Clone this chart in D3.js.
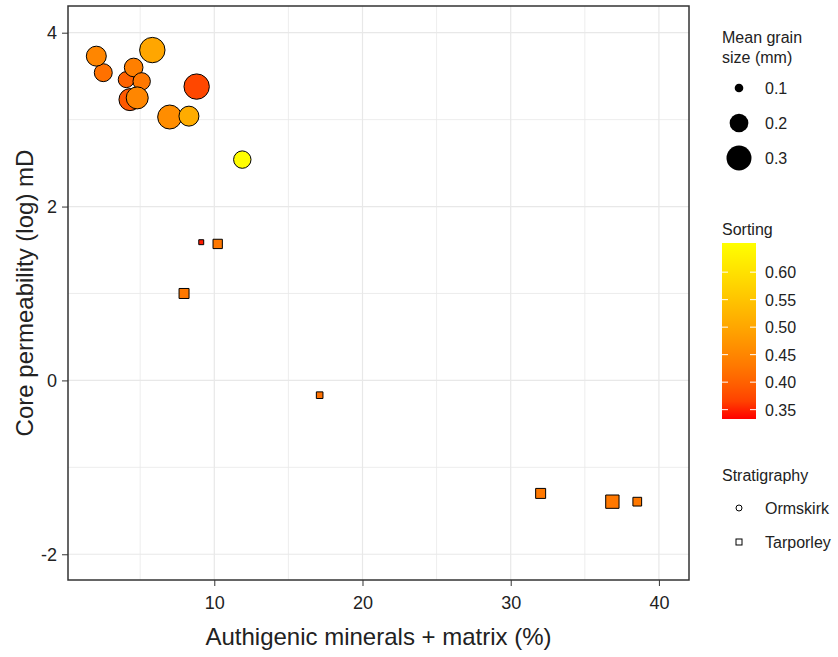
<!DOCTYPE html>
<html>
<head>
<meta charset="utf-8">
<script src="https://cdn.jsdelivr.net/npm/d3@7"></script>
<style>
  body { margin: 0; background: #fff; }
  text { font-family: "Liberation Sans", Arial, sans-serif; }
</style>
</head>
<body>
<svg id="chart" width="838" height="657"></svg>
<script>
// sample data
var formation = ["Ormskirk","Ormskirk","Ormskirk","Ormskirk","Ormskirk","Ormskirk","Ormskirk","Ormskirk","Ormskirk","Ormskirk","Ormskirk","Ormskirk",
                 "Tarporley","Tarporley","Tarporley","Tarporley","Tarporley","Tarporley","Tarporley"];
var authigenic = [4.06, 4.31, 2.51, 2.04, 4.56, 5.10, 4.80, 5.82, 8.81, 6.99, 8.29, 11.89,
                  9.12, 10.23, 7.96, 17.11, 32.02, 36.86, 38.54];
var permeability = [3.46, 3.23, 3.54, 3.73, 3.60, 3.44, 3.25, 3.80, 3.38, 3.03, 3.04, 2.54,
                    1.59, 1.57, 1.00, -0.17, -1.30, -1.395, -1.395];
var grainSize = [0.166, 0.249, 0.19, 0.218, 0.199, 0.183, 0.249, 0.307, 0.307, 0.282, 0.218, 0.183,
                 0.084, 0.113, 0.119, 0.093, 0.119, 0.155, 0.108];
var sorting = [0.40, 0.39, 0.42, 0.45, 0.44, 0.43, 0.45, 0.50, 0.37, 0.46, 0.51, 0.65,
               0.34, 0.43, 0.43, 0.42, 0.43, 0.43, 0.43];

var xTicks = [10, 20, 30, 40];
var yTicks = [-2, 0, 2, 4];
var sizeKeys = [0.1, 0.2, 0.3];
var sortKeys = [0.35, 0.40, 0.45, 0.50, 0.55, 0.60];
var strataKeys = ["Ormskirk", "Tarporley"];

var data = formation.map(function (f, i) {
  return { strat: f, x: authigenic[i], y: permeability[i], size: grainSize[i], sort: sorting[i] };
});

var svg = d3.select("#chart");
var pL = 68, pR = 689, pT = 6, pB = 580;

var x = d3.scaleLinear().domain([0.13, 42.03]).range([pL, pR]);
var y = d3.scaleLinear().domain([-2.296, 4.307]).range([pB, pT]);
// area of marker proportional to grain size
var area = d3.scaleLinear().domain([0.1, 0.3]).range([75, 625]);
function diam(g) { return Math.sqrt(Math.max(area(g), 9)); }
var colour = d3.scaleLinear().domain([0.333, 0.653]).range(["red", "yellow"]).interpolate(d3.interpolateLab).clamp(true);

// grid
var grid = svg.append("g");
d3.range(5, 45, 5).forEach(function (v) {
  if (x(v) < pR) grid.append("line").attr("x1", x(v)).attr("x2", x(v)).attr("y1", pT).attr("y2", pB)
    .attr("stroke", "#e8e8e8").attr("stroke-width", v % 10 == 0 ? 1.2 : 0.8);
});
d3.range(-2, 5, 1).forEach(function (v) {
  grid.append("line").attr("y1", y(v)).attr("y2", y(v)).attr("x1", pL).attr("x2", pR)
    .attr("stroke", "#e8e8e8").attr("stroke-width", v % 2 == 0 ? 1.2 : 0.8);
});

// axes
var xAxis = svg.append("g").attr("transform", "translate(0," + pB + ")")
  .call(d3.axisBottom(x).tickValues(xTicks).tickSize(6).tickSizeOuter(0).tickPadding(10));
var yAxis = svg.append("g").attr("transform", "translate(" + pL + ",0)")
  .call(d3.axisLeft(y).tickValues(yTicks).tickFormat(function (d) { return String(d); })
    .tickSize(6).tickSizeOuter(0).tickPadding(5));
[xAxis, yAxis].forEach(function (a) {
  a.select(".domain").remove();
  a.selectAll("line").attr("stroke", "#333");
  a.selectAll("text").attr("font-size", 18).attr("fill", "#222").attr("font-family", "Liberation Sans, Arial");
});

// points
svg.append("g").selectAll("path").data(data).enter().append("path")
  .attr("transform", function (d) { return "translate(" + x(d.x) + "," + y(d.y) + ")"; })
  .attr("d", function (d) {
    var s = diam(d.size);
    if (d.strat == "Ormskirk") return d3.symbol().type(d3.symbolCircle).size(Math.PI * s * s / 4)();
    return d3.symbol().type(d3.symbolSquare).size(Math.PI * s * s / 4)();
  })
  .attr("fill", function (d) { return colour(d.sort); })
  .attr("stroke", "#000").attr("stroke-width", 1);

// panel border
svg.append("rect").attr("x", pL).attr("y", pT).attr("width", pR - pL).attr("height", pB - pT)
  .attr("fill", "none").attr("stroke", "#333").attr("stroke-width", 1.5);

// axis titles
svg.append("text").attr("x", (pL + pR) / 2).attr("y", 645).attr("text-anchor", "middle")
  .attr("font-size", 24).attr("fill", "#222").text("Authigenic minerals + matrix (%)");
svg.append("text").attr("transform", "translate(33," + (pT + pB) / 2 + ") rotate(-90)")
  .attr("text-anchor", "middle").attr("font-size", 24).attr("fill", "#222").text("Core permeability (log) mD");

// legends
var lx = 722, fs = 16;
var leg = svg.append("g");
leg.append("text").attr("x", lx).attr("y", 43).attr("font-size", fs).attr("fill", "#222").text("Mean grain");
leg.append("text").attr("x", lx).attr("y", 63).attr("font-size", fs).attr("fill", "#222").text("size (mm)");
sizeKeys.forEach(function (k, i) {
  var cy = 88 + i * 35;
  leg.append("circle").attr("cx", 739).attr("cy", cy).attr("r", diam(k) / 2).attr("fill", "#000");
  leg.append("text").attr("x", 765).attr("y", cy + 6).attr("font-size", fs).attr("fill", "#222").text(k.toFixed(1));
});

leg.append("text").attr("x", lx).attr("y", 235).attr("font-size", fs).attr("fill", "#222").text("Sorting");
var barTop = 243, barBot = 419;
var cb = d3.scaleLinear().domain(colour.domain()).range([barBot, barTop]);
var grad = svg.append("defs").append("linearGradient").attr("id", "sortgrad")
  .attr("x1", 0).attr("y1", 1).attr("x2", 0).attr("y2", 0);
d3.range(0, 1.001, 0.1).forEach(function (t) {
  var v = colour.domain()[0] + t * (colour.domain()[1] - colour.domain()[0]);
  grad.append("stop").attr("offset", t).attr("stop-color", colour(v));
});
leg.append("rect").attr("x", lx).attr("y", barTop).attr("width", 34).attr("height", barBot - barTop)
  .attr("fill", "url(#sortgrad)");
sortKeys.forEach(function (k) {
  var ty = cb(k);
  leg.append("line").attr("x1", lx).attr("x2", lx + 6).attr("y1", ty).attr("y2", ty).attr("stroke", "#fff");
  leg.append("line").attr("x1", lx + 28).attr("x2", lx + 34).attr("y1", ty).attr("y2", ty).attr("stroke", "#fff");
  leg.append("text").attr("x", 765).attr("y", ty + 6).attr("font-size", fs).attr("fill", "#222").text(k.toFixed(2));
});

leg.append("text").attr("x", lx).attr("y", 481).attr("font-size", fs).attr("fill", "#222").text("Stratigraphy");
strataKeys.forEach(function (k, i) {
  var cy = 508 + i * 34;
  if (i == 0) leg.append("circle").attr("cx", 739).attr("cy", cy).attr("r", 3).attr("fill", "none").attr("stroke", "#000");
  else leg.append("rect").attr("x", 736).attr("y", cy - 3).attr("width", 6).attr("height", 6).attr("fill", "none").attr("stroke", "#000");
  leg.append("text").attr("x", 765).attr("y", cy + 6).attr("font-size", fs).attr("fill", "#222").text(k);
});
</script>
</body>
</html>
